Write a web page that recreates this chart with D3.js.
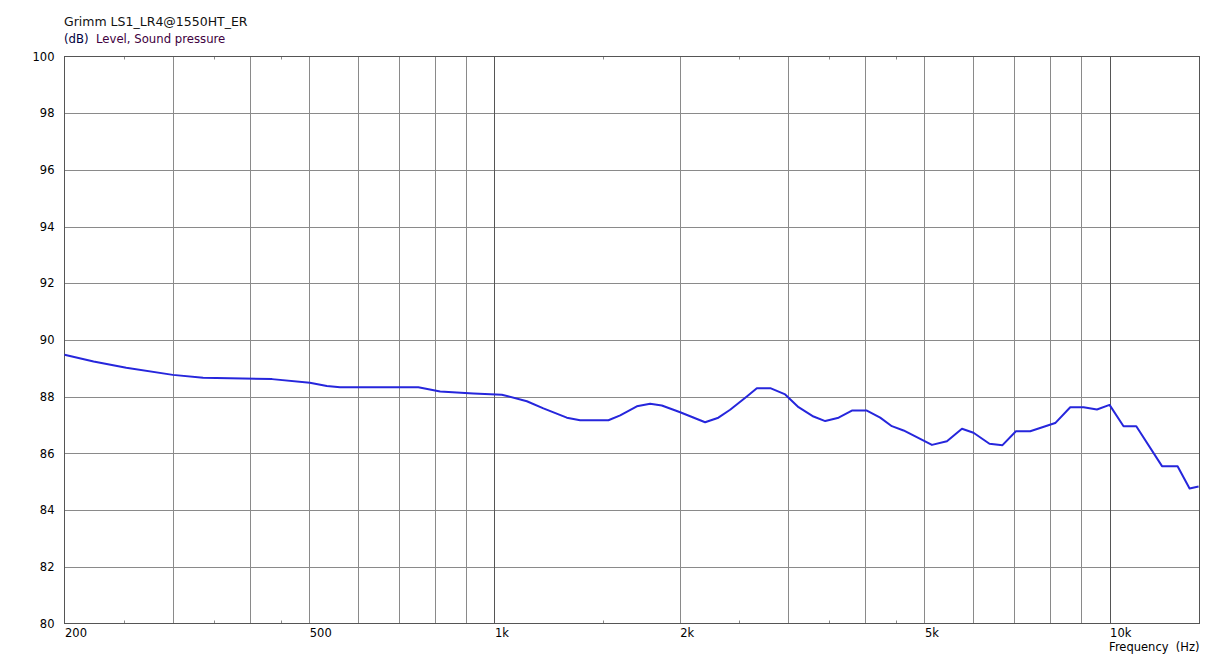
<!DOCTYPE html>
<html>
<head>
<meta charset="utf-8">
<script src="https://cdn.jsdelivr.net/npm/d3@7"></script>
<style>
html,body{margin:0;padding:0;background:#fff;}
svg{display:block;font-family:"DejaVu Sans",Verdana,sans-serif;}
</style>
</head>
<body>
<svg id="chart" width="1222" height="658"></svg>
<script>
// ---- data ----
const titleText = "Grimm LS1_LR4@1550HT_ER";
const unitText = "(dB)";
const quantityText = "Level, Sound pressure";
const xAxisTitle = "Frequency  (Hz)";
const frequencies = [200,223,252,300,336,390,435,501,534,561,752,816,924,1028,1129,1201,1311,1378,1532,1601,1704,1791,1871,2004,2200,2312,2416,2572,2670,2808,2969,3121,3301,3449,3626,3811,4031,4237,4426,4624,5143,5439,5754,6008,6378,6697,7042,7429,8158,8630,9072,9537,9998,10535,11050,12166,12897,13490,13952];
const levels = [89.48,89.24,89.02,88.77,88.67,88.64,88.62,88.49,88.38,88.33,88.33,88.18,88.11,88.07,87.84,87.59,87.26,87.17,87.17,87.34,87.66,87.75,87.69,87.45,87.10,87.26,87.54,88.01,88.30,88.30,88.08,87.63,87.30,87.14,87.26,87.51,87.51,87.26,86.96,86.81,86.30,86.43,86.87,86.73,86.34,86.29,86.78,86.78,87.07,87.63,87.63,87.55,87.71,86.96,86.96,85.55,85.55,84.76,84.83];
const yTicks = [80,82,84,86,88,90,92,94,96,98,100];
const xGrid = [300,400,500,600,700,800,900,1000,2000,3000,4000,5000,6000,7000,8000,9000,10000];
const xDecades = [1000,10000];
const xMinor = [250,350,450,1500,2500,3500,4500];
const xTickValues = [200,500,1000,2000,5000,10000];
const xTickLabels = ["200","500","1k","2k","5k","10k"];
const xDomain = [200,14000];
const yDomain = [80,100];

// ---- layout ----
const L = 64.5, R = 1199.5, T = 56.5, B = 623.5;
const svg = d3.select("#chart");
const x = d3.scaleLog().domain(xDomain).range([L, R]);
const y = d3.scaleLinear().domain(yDomain).range([B, T]);

// horizontal grid
svg.append("g").selectAll("line").data(yTicks.slice(1,-1)).join("line")
  .attr("x1", L).attr("x2", R)
  .attr("y1", d => Math.round(y(d)) + 0.5).attr("y2", d => Math.round(y(d)) + 0.5)
  .attr("stroke", "#8a8a8a").attr("stroke-width", 1);

// vertical grid
svg.append("g").selectAll("line").data(xGrid).join("line")
  .attr("x1", d => Math.round(x(d)) + 0.5).attr("x2", d => Math.round(x(d)) + 0.5)
  .attr("y1", T).attr("y2", B)
  .attr("stroke", d => xDecades.includes(d) ? "#555" : "#8a8a8a").attr("stroke-width", 1);

// minor ticks top & bottom
const mt = svg.append("g");
mt.selectAll("line.t").data(xMinor).join("line").attr("class","t")
  .attr("x1", d => Math.round(x(d)) + 0.5).attr("x2", d => Math.round(x(d)) + 0.5)
  .attr("y1", T).attr("y2", T + 3).attr("stroke", "#8a8a8a");
mt.selectAll("line.b").data(xMinor).join("line").attr("class","b")
  .attr("x1", d => Math.round(x(d)) + 0.5).attr("x2", d => Math.round(x(d)) + 0.5)
  .attr("y1", B - 3).attr("y2", B).attr("stroke", "#8a8a8a");

// frame
svg.append("rect").attr("x", L).attr("y", T).attr("width", R - L).attr("height", B - T)
  .attr("fill", "none").attr("stroke", "#555").attr("stroke-width", 1);

// y axis labels
const yAxis = d3.axisLeft(y).tickValues(yTicks).tickSize(0).tickPadding(10).tickFormat(d3.format("d"));
const ya = svg.append("g").attr("transform", `translate(${L},0)`).call(yAxis);
ya.select(".domain").remove();
ya.selectAll("text").attr("font-size", 11.5).attr("fill", "#000").attr("font-family", "DejaVu Sans, Verdana, sans-serif");

// x axis labels
const xAxis = d3.axisBottom(x).tickValues(xTickValues).tickSize(0).tickPadding(5)
  .tickFormat((d, i) => xTickLabels[i]);
const xa = svg.append("g").attr("transform", `translate(0,${B})`).call(xAxis);
xa.select(".domain").remove();
xa.selectAll("text").attr("text-anchor", "start").attr("font-size", 11.5).attr("fill", "#000")
  .attr("font-family", "DejaVu Sans, Verdana, sans-serif");

// x axis title
svg.append("text").attr("x", R).attr("y", 651).attr("text-anchor", "end")
  .attr("font-size", 11.5).attr("fill", "#000").attr("xml:space","preserve").text(xAxisTitle);

// titles
svg.append("text").attr("x", 64).attr("y", 26).attr("font-size", 12.5).attr("fill", "#111").text(titleText);
const sub = svg.append("text").attr("x", 64).attr("y", 43).attr("font-size", 11.7).attr("xml:space","preserve");
sub.append("tspan").attr("fill", "#000040").text(unitText + "  ");
sub.append("tspan").attr("fill", "#400040").text(quantityText);

// data line
const data = frequencies.map((f, i) => ({f, v: levels[i]}));
svg.append("path").datum(data)
  .attr("d", d3.line().x(d => x(d.f)).y(d => y(d.v)))
  .attr("fill", "none").attr("stroke", "#2626dc").attr("stroke-width", 2)
  .attr("stroke-linejoin", "round");
</script>
</body>
</html>
